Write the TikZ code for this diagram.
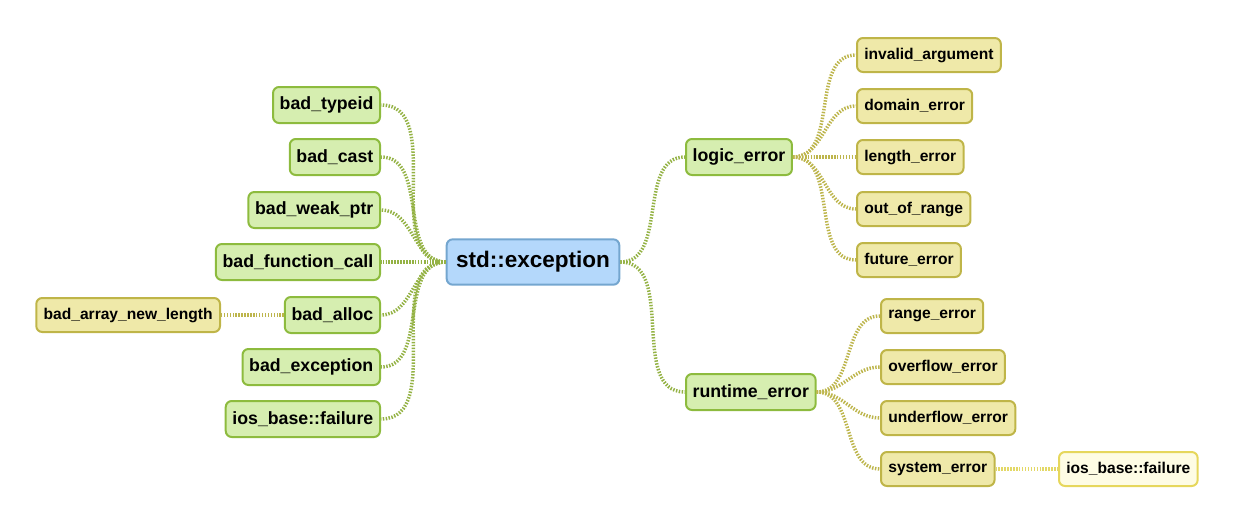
\documentclass[tikz,border=0pt]{standalone}
\usepackage{fontspec}
\setmainfont{Liberation Sans}
\usetikzlibrary{positioning}
\definecolor{rootfill}{HTML}{B4D8FB}
\definecolor{rootline}{HTML}{74A6CF}
\definecolor{branchfill}{HTML}{D6EEB0}
\definecolor{branchline}{HTML}{8DBB3E}
\definecolor{leaffill}{HTML}{EFE9A9}
\definecolor{leafline}{HTML}{BFB548}
\definecolor{twigfill}{HTML}{FEFCE4}
\definecolor{twigline}{HTML}{E6D75C}
\definecolor{branchlink}{HTML}{94B244}
\definecolor{leaflink}{HTML}{BDB54C}
\definecolor{twiglink}{HTML}{E3D866}

\begin{document}
\begin{tikzpicture}[
  x=0.75pt, y=-0.75pt,
  box/.style={draw, rounded corners=4.5pt, line width=1.5pt, inner xsep=5pt, inner ysep=0pt,
              minimum height=27pt, font=\fontsize{13.3}{16}\selectfont\bfseries},
  root/.style={box, fill=rootfill, draw=rootline, minimum height=34pt, inner xsep=7pt,
               font=\fontsize{16.9}{20}\selectfont\bfseries},
  branch/.style={box, fill=branchfill, draw=branchline},
  leaf/.style={box, fill=leaffill, draw=leafline, minimum height=25.5pt, inner xsep=5.5pt,
               font=\fontsize{11.7}{14}\selectfont\bfseries},
  twig/.style={leaf, fill=twigfill, draw=twigline},
  link/.style={line width=2.6pt, dash pattern=on 1.1pt off 1.1pt, draw=branchlink},
  leaflink/.style={link, draw=leaflink},
  twiglink/.style={link, draw=twiglink}
]
  \useasboundingbox (0,0) rectangle (1233,525);

  \node[root] (root) at (533,262) {std::exception};

  % left side
  \node[branch, anchor=east] (typeid) at (381,105) {bad\_typeid};
  \node[branch, anchor=east] (cast) at (381,157) {bad\_cast};
  \node[branch, anchor=east] (weak) at (381,210) {bad\_weak\_ptr};
  \node[branch, anchor=east] (func) at (381,262) {bad\_function\_call};
  \node[branch, anchor=east] (alloc) at (381,315) {bad\_alloc};
  \node[branch, anchor=east] (except) at (381,367) {bad\_exception};
  \node[branch, anchor=east] (iosl) at (381,419) {ios\_base::failure};
  \node[leaf, anchor=east] (newlen) at (221,315) {bad\_array\_new\_length};

  % right side
  \node[branch, anchor=west] (logic) at (685,157) {logic\_error};
  \node[branch, anchor=west] (runtime) at (685,392) {runtime\_error};

  \node[leaf, anchor=west] (invalid) at (856,55) {invalid\_argument};
  \node[leaf, anchor=west] (domain) at (856,106) {domain\_error};
  \node[leaf, anchor=west] (length) at (856,157) {length\_error};
  \node[leaf, anchor=west] (range) at (856,209) {out\_of\_range};
  \node[leaf, anchor=west] (future) at (856,260) {future\_error};

  \node[leaf, anchor=west] (rangeerr) at (880,316) {range\_error};
  \node[leaf, anchor=west] (overflow) at (880,367) {overflow\_error};
  \node[leaf, anchor=west] (underflow) at (880,418) {underflow\_error};
  \node[leaf, anchor=west] (system) at (880,469) {system\_error};
  \node[twig, anchor=west] (iosr) at (1058,469) {ios\_base::failure};

  % connectors
  \foreach \n in {typeid,cast,weak,func,alloc,except,iosl}
    \draw[link] (root.west) to[out=180, in=0] (\n.east);
  \draw[leaflink] (alloc.west) -- (newlen.east);
  \foreach \n in {logic,runtime}
    \draw[link] (root.east) to[out=0, in=180] (\n.west);
  \foreach \n in {invalid,domain,length,range,future}
    \draw[leaflink] (logic.east) to[out=0, in=180] (\n.west);
  \foreach \n in {rangeerr,overflow,underflow,system}
    \draw[leaflink] (runtime.east) to[out=0, in=180] (\n.west);
  \draw[twiglink] (system.east) -- (iosr.west);
\end{tikzpicture}
\end{document}
